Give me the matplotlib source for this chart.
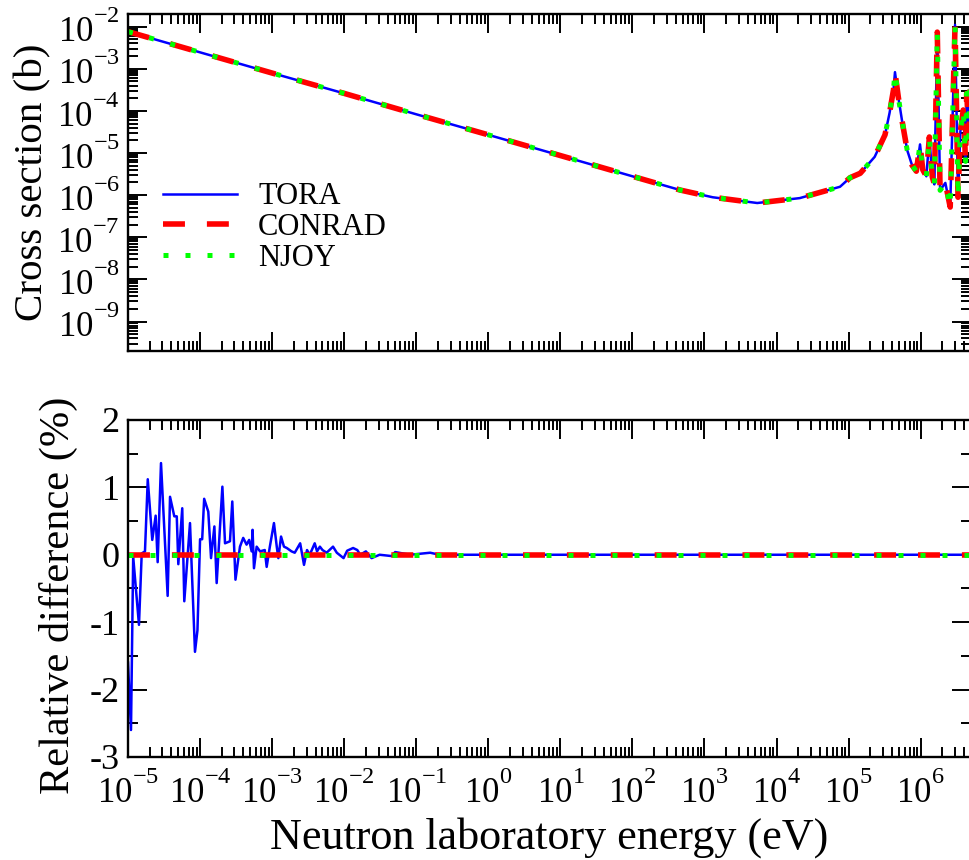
import numpy as np
import matplotlib
matplotlib.use("Agg")
import matplotlib.pyplot as plt
import matplotlib._mathtext as mathtext_internals
from matplotlib.ticker import LogLocator, NullFormatter, MultipleLocator

plt.rcParams['font.family'] = ['Liberation Serif', 'DejaVu Serif']
plt.rcParams['mathtext.fontset'] = 'custom'
plt.rcParams['mathtext.rm'] = 'Liberation Serif'
plt.rcParams['axes.unicode_minus'] = False
# raise the exponents like the grace-style labels
mathtext_internals.FontConstantsBase.sup1 = 1.1

# cross section (b) vs neutron energy (eV)
energy = [1e-5, 1e-4, 1e-3, 1e-2, 1e-1, 1e0, 1e1, 1e2, 4.6e2, 1.3e3, 5.4e3, 2.1e4,
          7.6e4, 1.05e5, 1.45e5, 2.3e5, 3.2e5, 3.7e5, 4.2e5, 4.4e5, 4.9e5, 5.5e5,
          6.5e5, 7.6e5, 8.7e5, 9.8e5, 1.07e6, 1.2e6, 1.32e6, 1.45e6, 1.55e6, 1.7e6,
          1.86e6, 2.2e6, 2.57e6, 3.0e6, 3.3e6, 3.55e6, 3.9e6, 4.2e6, 4.35e6, 4.7e6,
          4.9e6]
xs = [7.6e-3, 2.45e-3, 7.9e-4, 2.6e-4, 8.3e-5, 2.7e-5, 8.7e-6, 2.8e-6, 1.32e-6,
      8.9e-7, 6.5e-7, 8.5e-7, 1.58e-6, 2.6e-6, 3.3e-6, 8.1e-6, 2.7e-5, 8.9e-5,
      3.2e-4, 8.3e-4, 2.1e-4, 6.0e-5, 1.17e-5, 5.1e-6, 3.7e-6, 1.6e-5, 4.0e-6,
      2.8e-6, 2.4e-5, 2.7e-6, 1.8e-6, 7.4e-3, 1.3e-6, 1.95e-6, 5.2e-7, 1.1e-2,
      8.9e-7, 3.2e-5, 1.05e-4, 6.3e-6, 2.6e-4, 2.5e-5, 1e-3]

# relative difference (%) of TORA
e_tora = [1.0e-5, 1.1e-5, 1.18e-5, 1.42e-5, 1.55e-5, 1.72e-5, 1.88e-5, 2.17e-5,
          2.42e-5, 2.58e-5, 2.87e-5, 3.55e-5, 3.83e-5, 4.39e-5, 4.75e-5, 4.99e-5,
          5.66e-5, 6.04e-5, 7.25e-5, 8.5e-5, 9.2e-5, 1.0e-4, 1.07e-4, 1.14e-4,
          1.30e-4, 1.42e-4, 1.58e-4, 1.70e-4, 2.04e-4, 2.22e-4, 2.60e-4, 2.80e-4,
          3.1e-4, 3.58e-4, 3.97e-4, 4.42e-4, 4.8e-4, 5.2e-4, 5.35e-4, 5.6e-4,
          6.1e-4, 6.8e-4, 7.9e-4, 8.4e-4, 9.3e-4, 1.06e-3, 1.16e-3, 1.22e-3,
          1.33e-3, 1.46e-3, 1.6e-3, 1.86e-3, 2.06e-3, 2.45e-3, 2.77e-3, 3.05e-3,
          3.33e-3, 3.9e-3, 4.2e-3, 4.6e-3, 5.0e-3, 5.7e-3, 7.0e-3, 7.9e-3, 9.8e-3,
          1.1e-2, 1.33e-2, 1.52e-2, 1.67e-2, 2.0e-2, 2.4e-2, 3.1e-2, 4.6e-2,
          5.1e-2, 8.2e-2, 1.56e-1, 2.1e-1, 1e0, 1e2, 1e4, 1e6, 5e6]
d_tora = [-1.6, -2.6, -0.03, -1.04, 0.02, 0.05, 1.12, 0.22, 0.58, -0.11, 1.36,
          -0.61, 0.86, 0.57, 0.57, -0.14, 0.69, -0.69, 0.47, -1.44, -1.12, 0.23,
          0.23, 0.83, 0.64, -0.05, 0.42, -0.42, 1.01, 0.17, 0.20, 0.79, -0.37,
          0.12, 0.25, 0.15, 0.22, 0.05, 0.37, -0.20, 0.12, 0.05, 0.07, -0.18,
          0.12, 0.47, 0.12, -0.05, 0.27, 0.12, 0.10, 0.05, 0.03, 0.17, -0.15,
          0.07, 0.0, 0.17, 0.05, 0.12, 0.07, 0.03, 0.12, 0.03, -0.05, 0.06, 0.10,
          0.07, 0.0, 0.05, -0.05, 0.0, -0.02, 0.04, 0.0, 0.03, 0.0, 0.0, 0.0,
          0.0, 0.0, 0.0]
e_ref = [1e-5, 5e6]
d_conrad = [0.0, 0.0]
d_njoy = [0.0, 0.0]

blue = dict(color='#0000ff', lw=1.8)
red = dict(color='#ff0000', lw=4.0, dashes=(3.95, 3.95))
green = dict(color='#00ff00', lw=3.6, dashes=(1.0, 3.4))

fig = plt.figure(figsize=(9.69, 8.6), dpi=100)
ax1 = fig.add_axes([0.1321, 0.5919, 0.870, 0.3919])
ax2 = fig.add_axes([0.1321, 0.1198, 0.870, 0.3919])

ax1.plot(energy, xs, label='TORA', **blue)
ax1.plot(energy, xs, label='CONRAD', **red)
ax1.plot(energy, xs, label='NJOY', **green)
ax1.set_xscale('log')
ax1.set_yscale('log')
ax1.set_xlim(1e-5, 5e6)
ax1.set_ylim(2e-10, 2e-2)
ax1.set_ylabel('Cross section (b)', fontsize=29.5)
ax1.yaxis.set_label_coords(-0.091, 0.5)
ax1.legend(loc='upper left', bbox_to_anchor=(0.0415, 0.500), frameon=False,
           fontsize=22, handlelength=2.42, handletextpad=0.69, labelspacing=0.05,
           borderpad=0, borderaxespad=0)

ax2.plot(e_tora, d_tora, **blue)
ax2.plot(e_ref, d_conrad, **red)
ax2.plot(e_ref, d_njoy, **green)
ax2.set_xscale('log')
ax2.set_xlim(1e-5, 5e6)
ax2.set_ylim(-3, 2)
ax2.yaxis.set_major_locator(MultipleLocator(1))
ax2.yaxis.set_minor_locator(MultipleLocator(0.5))
ax2.set_ylabel('Relative difference (%)', fontsize=30.5)
ax2.yaxis.set_label_coords(-0.059, 0.479)
ax2.set_xlabel('Neutron laboratory energy (eV)', fontsize=31.8)
ax2.xaxis.set_label_coords(0.5, -0.178)

for ax in (ax1, ax2):
    ax.xaxis.set_major_locator(LogLocator(base=10, numticks=100))
    ax.xaxis.set_minor_locator(LogLocator(base=10, subs=np.arange(2, 10), numticks=100))
    ax.xaxis.set_minor_formatter(NullFormatter())
    ax.tick_params(which='both', direction='in', top=True, right=True, width=1.4,
                   labelsize=25)
    ax.tick_params(which='major', length=14)
    ax.tick_params(which='minor', length=7)
    ax.tick_params(axis='x', pad=10.5)
    ax.tick_params(axis='y', pad=6)
    for s in ax.spines.values():
        s.set_linewidth(1.7)

ax1.yaxis.set_major_locator(LogLocator(base=10, numticks=100))
ax1.yaxis.set_minor_locator(LogLocator(base=10, subs=np.arange(2, 10), numticks=100))
ax1.yaxis.set_minor_formatter(NullFormatter())
ax1.tick_params(axis='x', labelbottom=False)
ax2.tick_params(axis='y', labelsize=26)

fig.savefig('out.png', dpi=100)
